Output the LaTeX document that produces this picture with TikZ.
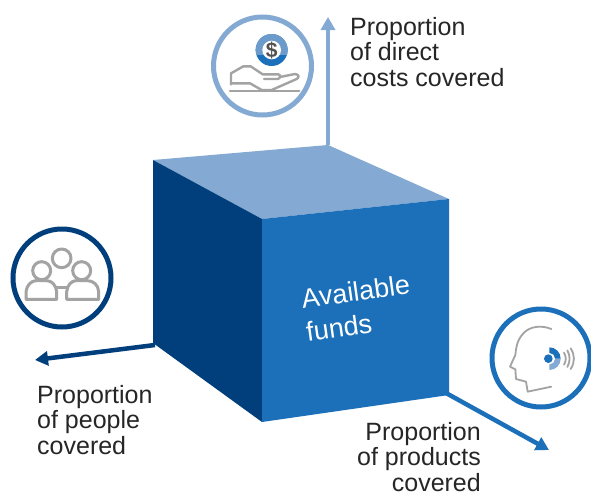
\documentclass[tikz,border=0pt]{standalone}
\usepackage{fontspec}
\setmainfont{Liberation Sans}
\usetikzlibrary{arrows.meta}
\definecolor{cdark}{HTML}{003F7C}
\definecolor{cmid}{HTML}{1C6FB9}
\definecolor{clight}{HTML}{84A9D2}
\definecolor{ccoin}{HTML}{6C9BCB}
\definecolor{cgrey}{HTML}{A3A3A3}
\definecolor{ctext}{HTML}{262626}
\tikzset{
  lbl/.style={text=ctext,font=\fontsize{25}{25.5}\selectfont,inner sep=0pt,align=left},
  axis/.style={line width=4.5pt,-{Triangle[length=13pt,width=14pt]}},
  ring/.style={circle,draw,line width=5pt,minimum size=98pt,inner sep=0pt,fill=white},
  ico/.style={draw=cgrey,line width=2.4pt,line cap=round,line join=round,fill=none},
}
\begin{document}
\begin{tikzpicture}[x=1pt,y=-1pt]
\useasboundingbox (0,0) rectangle (591,493);
\fill[white] (0,0) rectangle (591,493);
\coordinate (tl) at (153,160);
\coordinate (tb) at (328,145);
\coordinate (tr) at (449,199);
\coordinate (tf) at (262,219);
\coordinate (br) at (449,395);
\coordinate (bf) at (262,422);
\coordinate (bl) at (153,343);
\coordinate (upend) at (328,17);
\coordinate (leftstart) at (155,345);
\coordinate (leftend) at (35,360);
\coordinate (rightstart) at (446,393);
\coordinate (rightend) at (549,450);
\draw[axis,clight] (tb) -- (upend);
\draw[axis,cdark] (leftstart) -- (leftend);
\draw[axis,cmid] (rightstart) -- (rightend);
\fill[clight] (tl) -- (tb) -- (tr) -- (tf) -- cycle;
\fill[cdark] (tl) -- (tf) -- (bf) -- (bl) -- cycle;
\fill[cmid] (tf) -- (tr) -- (br) -- (bf) -- cycle;
\node[lbl,text=white,font=\fontsize{27}{34}\selectfont,rotate=8,anchor=center] (funds) at (358,308) {Available\\funds};
\node[lbl,anchor=north west] (ldirect) at (350,17) {Proportion\\of direct\\costs covered};
\node[lbl,anchor=north west] (lpeople) at (37,385) {Proportion\\of people\\covered};
\node[lbl,anchor=north east,align=right] (lproducts) at (481,422) {Proportion\\of products\\covered};
% hand and coin
\node[ring,draw=clight] (icoHand) at (262.5,66) {};
\begin{scope}[shift={(200,5)},scale=1/3]
  \fill[cmid] (215,135) circle (48);
  \begin{scope}
  \clip (160,80) rectangle (270,148);
  \fill[ccoin] (215,135) circle (48);
  \end{scope}
  \fill[white] (215,135) circle (28);
  \node[font=\bfseries\fontsize{21}{21}\selectfont,text=ctext!80!white,inner sep=0pt] (dollar) at (215,135) {\$};
  \draw[ico] (90,258) -- (298,258);
  \draw[ico] (93,238) -- (93,205) -- (130,184) -- (152,184) -- (188,208) -- (235,208)
     .. controls (245,210) and (240,222) .. (232,222) -- (192,222);
  \draw[ico] (240,216) -- (285,207) .. controls (298,208) and (298,218) .. (290,222)
     -- (215,255) -- (185,255) -- (150,235) -- (93,235);
\end{scope}
% people
\node[ring,draw=cdark] (icoPeople) at (62,278) {};
\begin{scope}[shift={(0,220)},scale=1/3]
  \draw[ico,line width=3pt] (185,115) circle (28);
  \draw[ico,line width=3pt] (125,152) circle (27);
  \draw[ico,line width=3pt] (245,152) circle (27);
  \draw[ico,line width=3pt] (78,238) -- (78,215) .. controls (80,195) and (95,182) .. (108,182)
     -- (140,182) .. controls (155,182) and (168,195) .. (170,215) -- (170,238) -- cycle;
  \draw[ico,line width=3pt] (200,238) -- (200,215) .. controls (202,195) and (215,182) .. (228,182)
     -- (262,182) .. controls (280,182) and (295,195) .. (296,215) -- (296,238) -- cycle;
  \draw[ico,line width=3pt] (170,203) -- (200,203);
\end{scope}
% head
\node[ring,draw=cmid] (icoHead) at (541,358) {};
\begin{scope}[shift={(480,300)},scale=1/3]
  \draw[ico,line width=1.8pt] (214,87) .. controls (185,75) and (150,78) .. (130,100)
     .. controls (110,122) and (108,145) .. (106,165) -- (90,200) -- (106,208) -- (108,237)
     -- (138,245) -- (143,275) -- (214,260);
  \fill[clight] (208,176) -- (242,176) arc (0:90:34) -- cycle;
  \fill[cmid] (208,176) -- (208,142) arc (-90:0:34) -- cycle;
  \fill[white] (208,176) circle (17);
  \fill[cmid] (205,176) circle (13);
  \draw[ico,line width=1.8pt] (252,158) .. controls (259,170) and (259,182) .. (252,194);
  \draw[ico,line width=1.8pt] (262,151) .. controls (271,168) and (271,184) .. (262,201);
  \draw[ico,line width=1.8pt] (272,145) .. controls (285,165) and (285,187) .. (272,207);
\end{scope}
\end{tikzpicture}
\end{document}
